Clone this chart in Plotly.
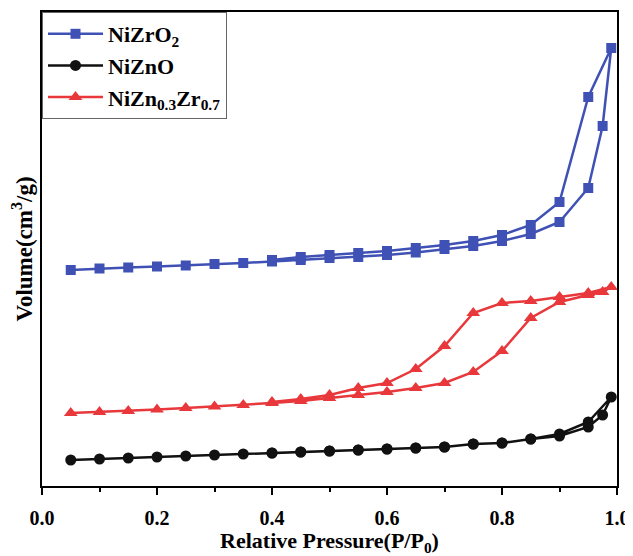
import plotly.graph_objects as go

# Relative pressure (P/P0) – adsorption branch, desorption branch
x_ads = [0.05, 0.10, 0.15, 0.20, 0.25, 0.30, 0.35, 0.40, 0.45, 0.50, 0.55,
         0.60, 0.65, 0.70, 0.75, 0.80, 0.85, 0.90, 0.95, 0.975, 0.99]
x_des = [0.95, 0.90, 0.85, 0.80, 0.75, 0.70, 0.65, 0.60, 0.55, 0.50, 0.45, 0.40]

# Volume (arbitrary units)
zr_ads = [216, 217.5, 218.5, 219.5, 220.5, 222, 223, 224.5, 226, 228, 229,
          231, 233.5, 237, 240, 245, 252, 264, 298, 360, 438]
zr_des = [389, 284, 261, 251, 245, 241, 238, 235, 233, 231, 229, 226]

zn_ads = [26, 27, 28, 29, 30, 31, 32, 33, 34, 35, 36,
          37, 38, 39, 42, 43, 47, 50, 59, 71, 89]
zn_des = [64, 52, 47, 43, 42, 39, 38, 37, 36, 35, 34, 33]

znzr_ads = [73, 74, 75, 76.5, 78, 79.5, 81, 83, 85, 88, 91,
            94, 98, 103, 114, 135, 168, 184, 191, 194, 199]
znzr_des = [193, 189, 185, 183, 173, 140, 117, 103, 98, 91, 87, 84]

names = ["NiZrO<sub>2</sub>", "NiZnO", "NiZn<sub>0.3</sub>Zr<sub>0.7</sub>"]
colors = ["#3F51B5", "#111111", "#E8383B"]
symbols = ["square", "circle", "triangle-up"]
sizes = [10, 11, 12]

series = [(zr_ads, zr_des), (zn_ads, zn_des), (znzr_ads, znzr_des)]

fig = go.Figure()
for (ads, des), name, col, sym, sz in zip(series, names, colors, symbols, sizes):
    fig.add_trace(go.Scatter(
        x=x_ads + x_des,
        y=ads + des,
        mode="lines+markers",
        name=name,
        line=dict(color=col, width=2.5),
        marker=dict(symbol=sym, size=sz, color=col),
    ))

font_family = "Liberation Serif"

# The page body adds an 8px offset, so the figure is 8px smaller each way.
fig.update_layout(
    width=625, height=548,
    margin=dict(l=34, r=16, t=4, b=70),
    plot_bgcolor="white", paper_bgcolor="white",
    font=dict(family=font_family, color="black", size=20, weight="bold"),
    showlegend=True,
    legend=dict(
        x=0, y=1, xanchor="left", yanchor="top",
        bgcolor="white", bordercolor="#666666", borderwidth=1,
        font=dict(family=font_family, size=22, color="black", weight="bold"),
        tracegroupgap=0, itemwidth=55,
    ),
)

fig.update_xaxes(
    range=[0, 1.0], dtick=0.2, tick0=0, tickformat=".1f",
    automargin=False,
    showline=True, linecolor="black", linewidth=2, mirror=True,
    ticks="outside", ticklen=7, tickwidth=2, tickcolor="black",
    minor=dict(dtick=0.1, ticks="outside", ticklen=4, tickwidth=2, tickcolor="black"),
    showgrid=False, zeroline=False,
    tickfont=dict(family=font_family, size=20, color="black", weight="bold"),
    ticklabelstandoff=6,
    title=dict(text="Relative Pressure(P/P<sub>0</sub>)",
               font=dict(family=font_family, size=22, color="black", weight="bold"),
               standoff=10),
)

fig.update_yaxes(
    range=[0, 474],
    automargin=False,
    showline=True, linecolor="black", linewidth=2, mirror=True,
    ticks="", showticklabels=False, showgrid=False, zeroline=False,
    title=dict(text="Volume(cm<sup>3</sup>/g)",
               font=dict(family=font_family, size=23, color="black", weight="bold"),
               standoff=4),
)

fig.write_html("out.html")
